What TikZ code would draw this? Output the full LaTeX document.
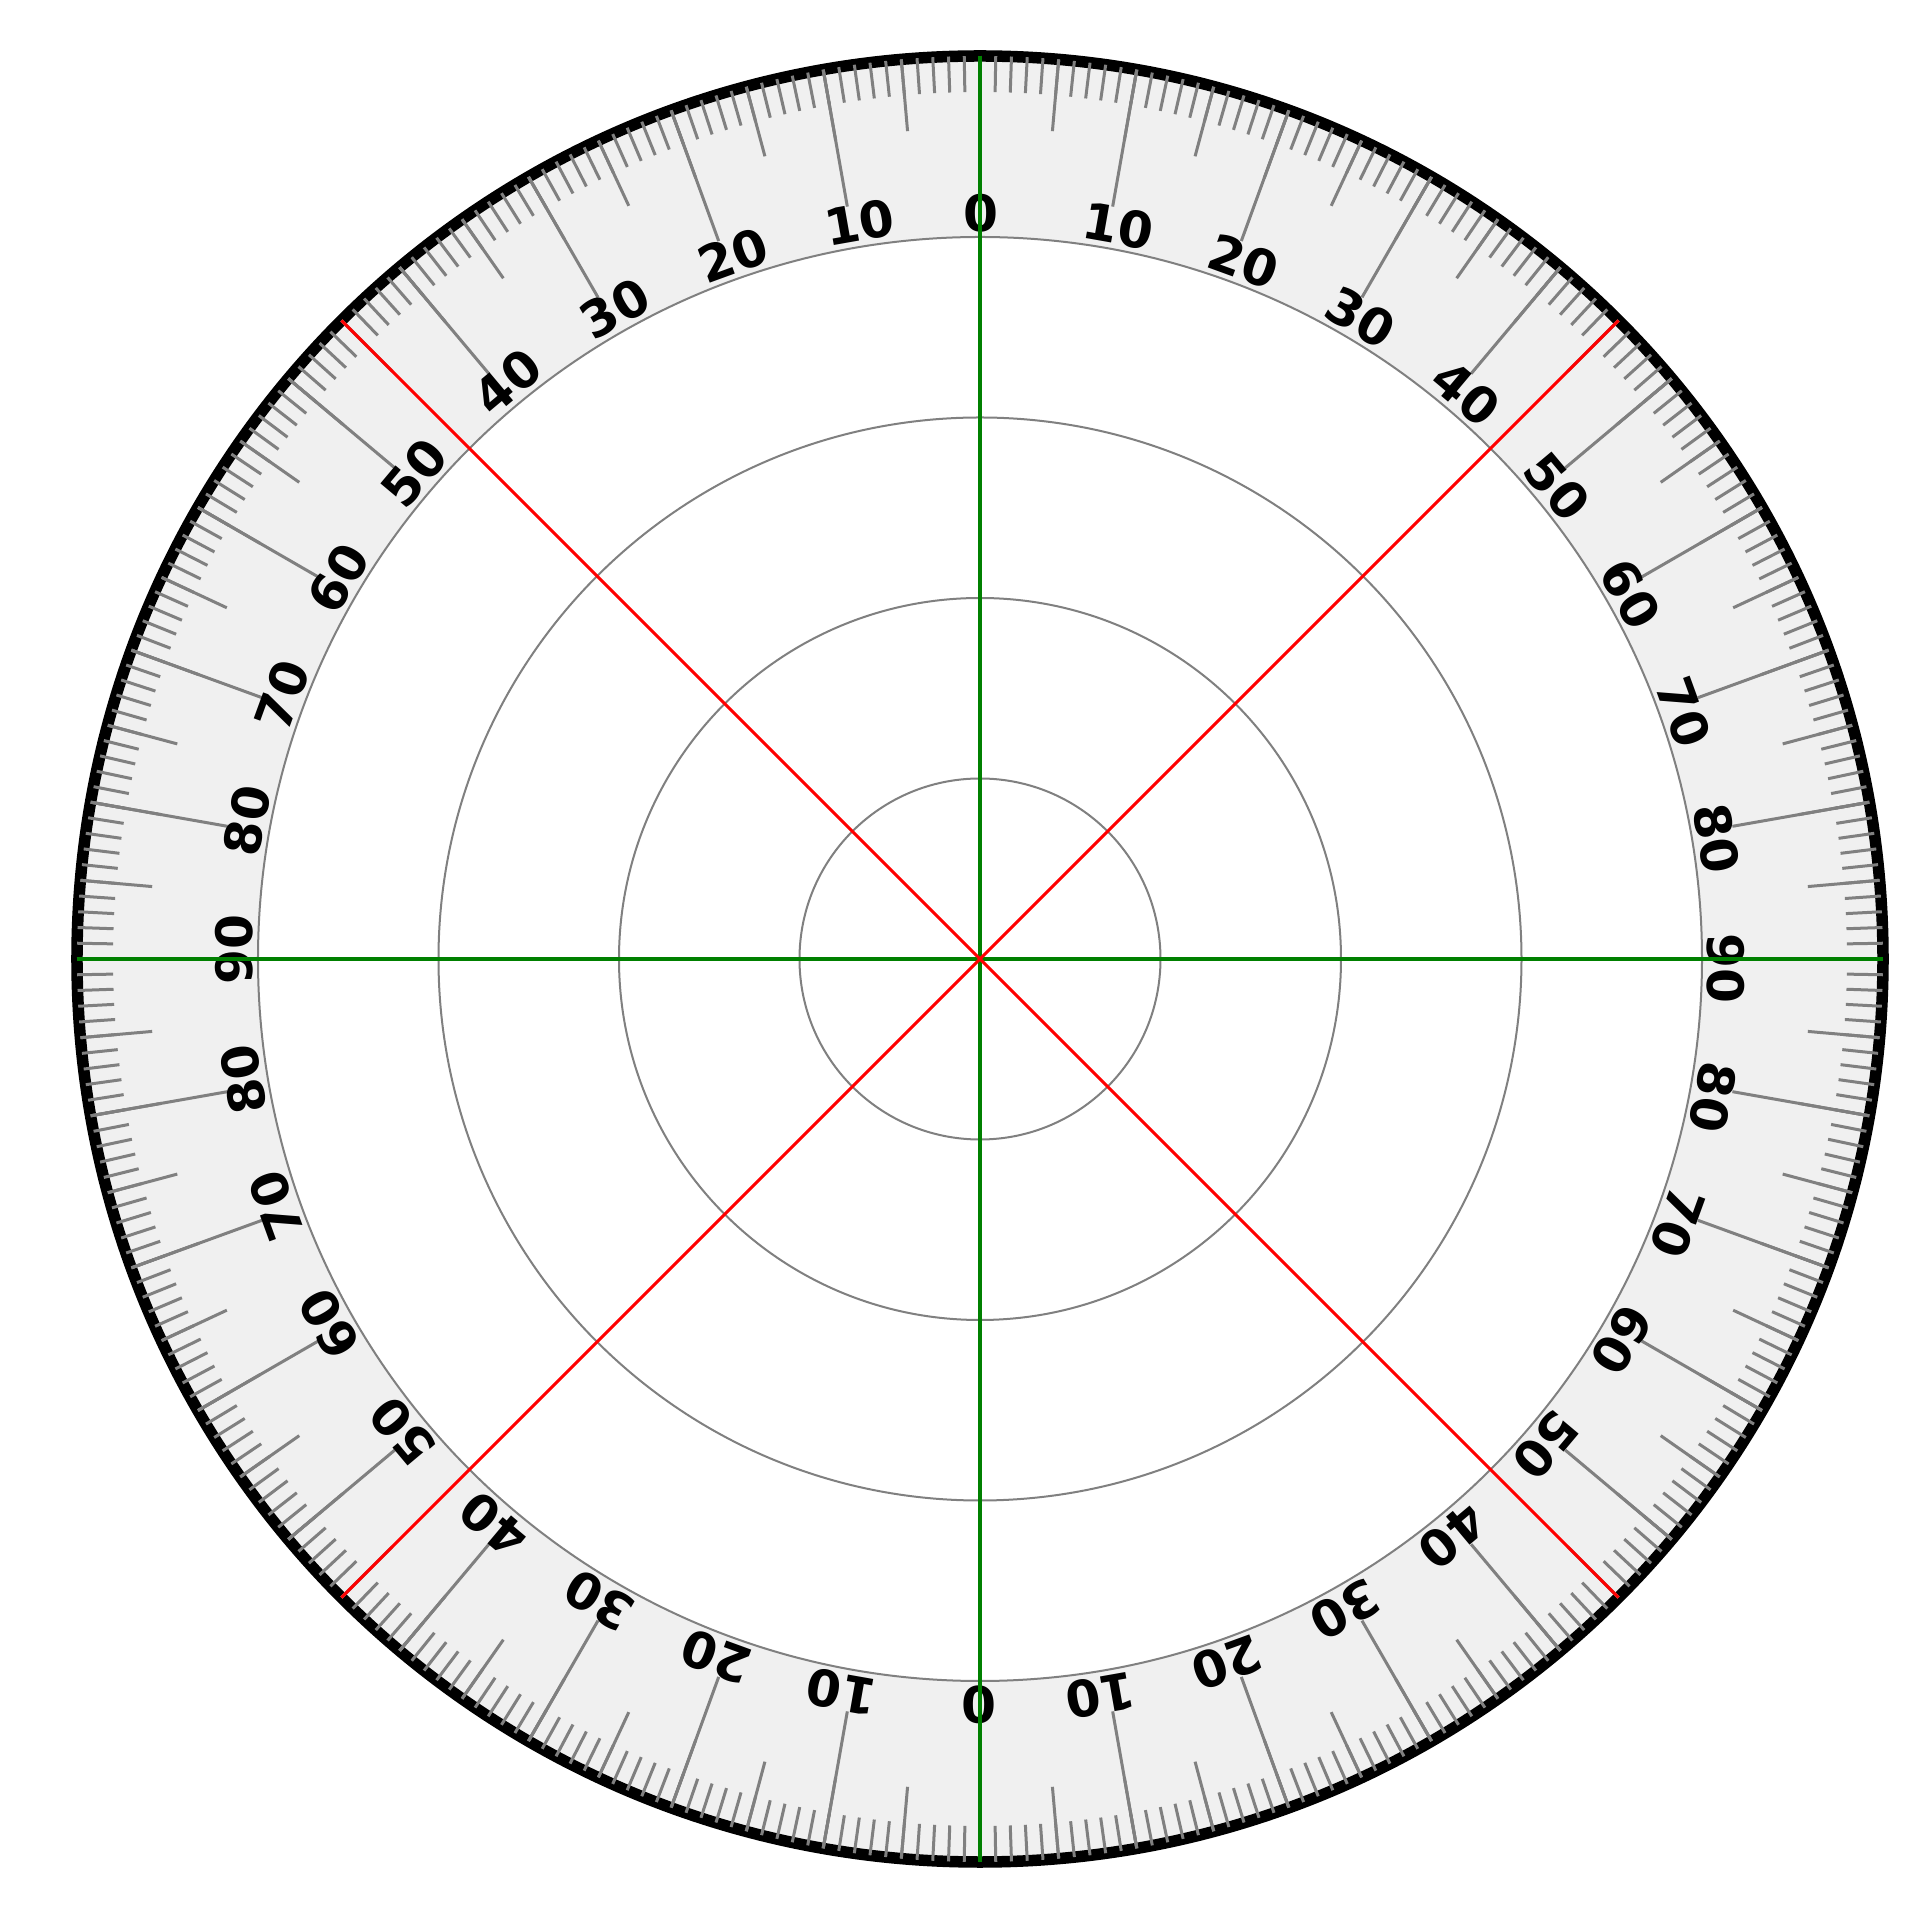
\documentclass[tikz,border=0pt]{standalone}
\usepackage{fontspec}
\setmainfont{DejaVu Sans}
\usepackage{xcolor}
\usetikzlibrary{calc}

\definecolor{bandgray}{HTML}{F0F0F0}
\definecolor{tickgray}{HTML}{808080}
\definecolor{axisgreen}{HTML}{008000}
\definecolor{diagred}{HTML}{FF0000}

\tikzset{
    scaletick/.style={draw=tickgray, line width=0.3mm},
    ring/.style={draw=tickgray, line width=0.2mm},
    num/.style={font=\bfseries\fontsize{14.3}{17}\selectfont, inner sep=0pt},
    axisline/.style={draw=axisgreen, line width=0.33mm},
    diagline/.style={draw=diagred, line width=0.3mm}
}

\begin{document}
\begin{tikzpicture}
    \fill[white] (-9.80,-9.61) rectangle (9.40,9.59);
    \useasboundingbox (-9.80,-9.61) rectangle (9.40,9.59);
    \coordinate (O) at (0,0);
    \foreach \a in {0,45,...,315}
        \coordinate (d\a) at (\a:9.03);

    % Dial
    \begin{scope}
        \fill[bandgray] (O) circle (9.03);
        \fill[white] (O) circle (7.22);
        \foreach \r in {1.805,3.61,5.415,7.22}
            \draw[ring] (O) circle (\r);
        \draw[line width=1.15mm] (O) circle (9.03);
    \end{scope}

    % Scale
    \begin{scope}
        \foreach \c in {0,...,359}
            \draw[scaletick] (90-\c:9.03) -- (90-\c:8.67);
        \foreach \c in {0,5,...,355}
            \draw[scaletick] (90-\c:9.03) -- (90-\c:8.31);
        \foreach \c in {0,10,...,350}
            \draw[scaletick] (90-\c:9.03) -- (90-\c:7.64);
        \foreach \c in {0,10,...,350}{
            \pgfmathtruncatemacro{\v}{abs(mod(\c+90,180)-90)}
            \pgfmathsetmacro{\s}{\v==0 ? 0.1 : 0.7}
            \node[num, rotate=-\c] (n\c) at ({90-\c-\s}:7.46) {\v};
        }
    \end{scope}

    % Axes
    \draw[axisline] (d90) -- (d270);
    \draw[axisline] (d180) -- (d0);
    \foreach \a in {45,135,225,315}
        \draw[diagline] (O) -- (d\a);
\end{tikzpicture}
\end{document}
